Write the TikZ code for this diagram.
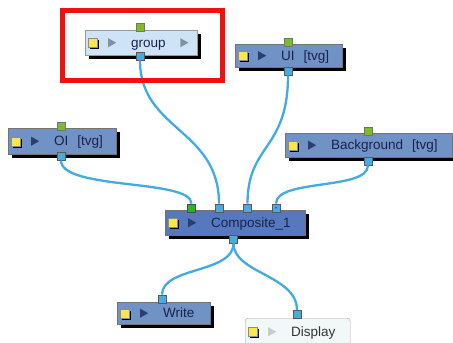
\documentclass[tikz,border=0pt]{standalone}
\usepackage{fontspec}
\setmainfont{Liberation Sans}
\usetikzlibrary{shadows}

\definecolor{wireblue}{RGB}{64,172,226}
\definecolor{nodeblue}{RGB}{112,146,196}
\definecolor{compblue}{RGB}{86,120,190}
\definecolor{groupblue}{RGB}{206,227,245}
\definecolor{dispwhite}{RGB}{242,247,247}
\definecolor{portgreen}{RGB}{126,188,38}
\definecolor{portblue}{RGB}{72,172,222}
\definecolor{linkgreen}{RGB}{34,184,44}
\definecolor{padyellow}{RGB}{250,232,72}
\definecolor{textnavy}{RGB}{28,34,78}
\definecolor{arrownavy}{RGB}{44,62,110}
\definecolor{arrowgray}{RGB}{130,145,160}
\definecolor{arrowlight}{RGB}{196,204,206}
\definecolor{selectred}{RGB}{240,16,16}

\tikzset{
    tri/.store in=\tricol,
    tri=arrownavy,
    module/.style={
        anchor=north west,
        draw=black!55,
        inner xsep=0pt,
        inner ysep=0pt,
        align=left,
        text height=9.8pt,
        text depth=0.5pt,
        font=\fontsize{13.5}{15}\selectfont,
        text=textnavy,
        execute at begin node={\hspace*{46pt}},
        path picture={
            \fill[black, sharp corners] ([xshift=5pt,yshift=2.5pt]path picture bounding box.west) rectangle ++(9pt,-9pt);
            \filldraw[fill=padyellow, draw=black!45, line width=0.3pt, sharp corners]
                ([xshift=3pt,yshift=4.5pt]path picture bounding box.west) rectangle ++(9pt,-9pt);
            \fill[\tricol, sharp corners] ([xshift=23pt,yshift=4.5pt]path picture bounding box.west)
                -- ++(8pt,-4.5pt) -- ++(-8pt,-4.5pt) -- cycle;
        }
    },
    shadowed/.style={
        drop shadow={shadow xshift=4pt, shadow yshift=-4pt, fill=black, opacity=1}
    },
    inport/.style={
        draw=black!55,
        fill=portgreen,
        minimum size=8pt,
        inner sep=0pt,
        anchor=south
    },
    outport/.style={
        draw=black!65,
        fill=portblue,
        minimum size=8pt,
        inner sep=0pt,
        anchor=north
    },
    wire/.style={
        draw=wireblue,
        line width=2.3pt
    }
}

\begin{document}
\begin{tikzpicture}[x=1pt, y=-1pt]

    \fill[white] (0,0) rectangle (453,343);
    \useasboundingbox (0,0) rectangle (453,343);

    % modules
    \node[module, shadowed, fill=groupblue, draw=black!40, tri=arrowgray, text width=112pt, minimum height=25pt] (group) at (85,30) {group};
    \node[module, shadowed, fill=nodeblue, text width=107pt, minimum height=23pt] (ui) at (235,44) {UI~~[tvg]};
    \node[module, shadowed, fill=nodeblue, text width=108pt, minimum height=26pt] (oi) at (8,128) {OI~~[tvg]};
    \node[module, shadowed, fill=nodeblue, text width=167pt, minimum height=24pt] (background) at (285,133) {Background~~[tvg]};
    \node[module, shadowed, fill=compblue, text width=140pt, minimum height=25pt] (composite) at (165,210) {Composite\_1};
    \node[module, shadowed, fill=nodeblue, text width=93pt, minimum height=22pt] (write) at (117,302) {Write};
    \node[module, fill=dispwhite, draw=black!35, tri=arrowlight, rounded corners=3pt, text=black!80, text width=105pt, minimum height=27pt] (display) at (245,318) {Display};

    \fill[arrowgray] ([xshift=-17pt,yshift=4.5pt]group.east) -- ++(8pt,-4.5pt) -- ++(-8pt,-4.5pt) -- cycle;

    % ports
    \node[inport] (group-in) at (140,31) {};
    \node[outport] (group-out) at (140,52) {};
    \node[inport] (ui-in) at (288,46) {};
    \node[outport] (ui-out) at (288,67) {};
    \node[inport] (oi-in) at (61,130) {};
    \node[outport] (oi-out) at (61,152) {};
    \node[inport] (background-in) at (368,135) {};
    \node[outport] (background-out) at (368,157) {};
    \node[inport, fill=linkgreen, draw=black!70] (comp-in1) at (191.5,212) {};
    \node[inport, fill=portblue, draw=black!65] (comp-in2) at (219,212) {};
    \node[inport, fill=portblue, draw=black!65] (comp-in3) at (247.5,212) {};
    \node[inport, fill=portblue, draw=black!65] (comp-in4) at (276,212) {};
    \fill[black!70] (comp-in4.center) circle (0.9pt);
    \node[outport] (comp-out) at (233.5,235) {};
    \node[inport, fill=portblue, draw=black!65] (write-in) at (162,303) {};
    \node[inport, fill=portblue, draw=black!65] (display-in) at (297,318.5) {};

    % links
    \draw[wire] (group-out.south) .. controls +(0,70) and +(0,-75) .. (comp-in2.north);
    \draw[wire] (ui-out.south) .. controls +(0,75) and +(0,-60) .. (comp-in3.north);
    \draw[wire] (oi-out.south) .. controls +(0,30) and +(0,-25) .. (comp-in1.north);
    \draw[wire] (background-out.south) .. controls +(0,25) and +(0,-25) .. (comp-in4.north);
    \draw[wire] (comp-out.south) .. controls +(0,30) and +(0,-28) .. (write-in.north);
    \draw[wire] (comp-out.south) .. controls +(0,30) and +(0,-35) .. (display-in.north);

    % selection
    \draw[selectred, line width=5pt] (62.5,10.5) rectangle (222.5,80.5);

\end{tikzpicture}
\end{document}
